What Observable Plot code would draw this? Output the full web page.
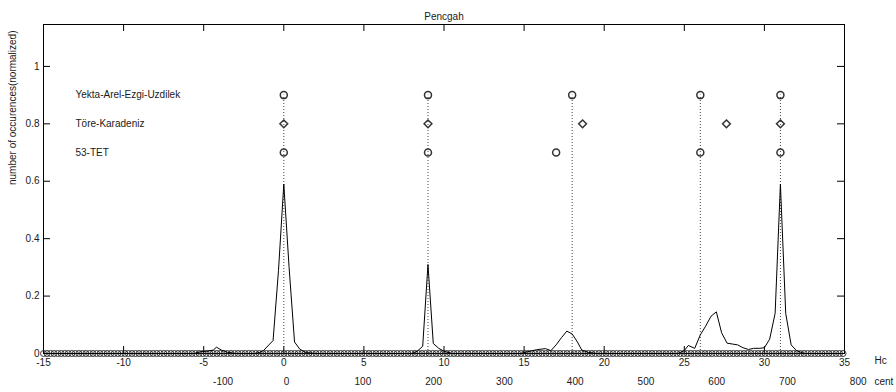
<!DOCTYPE html>
<html>
<head>
<meta charset="utf-8">
<script src="https://cdn.jsdelivr.net/npm/d3@7"></script>
<script src="https://cdn.jsdelivr.net/npm/@observablehq/plot@0.6"></script>
<style>
  html, body { margin: 0; padding: 0; background: #fff; }
  #chart { width: 896px; height: 392px; }
</style>
</head>
<body>
<div id="chart"></div>
<script>
// ---- data ----
const title = "Pencgah";
const yLabel = "number of occurences(normalized)";
const xTicks = [-15, -10, -5, 0, 5, 10, 15, 20, 25, 30, 35];
const yTicks = [0, 0.2, 0.4, 0.6, 0.8, 1];
const centTicks = [-100, 0, 100, 200, 300, 400, 500, 600, 700, 800];
const systems = ["Yekta-Arel-Ezgi-Uzdilek", "Töre-Karadeniz", "53-TET"];
const levels = [0.9, 0.8, 0.7];
const yekta = [0, 9, 18, 26, 31];
const tore = [0, 9, 18.65, 27.63, 31];
const tet53 = [0, 9, 17, 26, 31];
// pitch histogram (Hc, normalized occurrences)
const histHc = [-15, -5.6, -5.2, -4.8, -4.4, -4.2, -3.9, -3.5, -3.0, -1.8, -1.5, -1.27, -0.93, -0.67, -0.33, 0, 0.33, 0.67, 1.0, 1.4, 2.0,
  8.0, 8.33, 8.67, 9.0, 9.33, 9.67, 10.0, 10.5,
  14.8, 15.2, 15.77, 16.33, 16.67, 17.0, 17.33, 17.67, 18.0, 18.33, 18.6, 19.0, 19.5,
  24.6, 25.0, 25.25, 25.65, 26.0, 26.33, 26.67, 27.0, 27.33, 27.67, 28.0, 28.33, 28.67, 29.0, 29.33, 29.67, 30.0, 30.33, 30.67, 31.0, 31.33, 31.67, 32.0, 32.5, 35];
const histVal = [0, 0, 0.006, 0.008, 0.012, 0.022, 0.012, 0.004, 0, 0, 0.004, 0.01, 0.03, 0.045, 0.29, 0.59, 0.3, 0.04, 0.015, 0.003, 0,
  0, 0.008, 0.025, 0.31, 0.035, 0.018, 0.008, 0,
  0, 0.006, 0.013, 0.017, 0.01, 0.03, 0.055, 0.078, 0.068, 0.04, 0.012, 0.004, 0,
  0, 0.01, 0.028, 0.018, 0.065, 0.095, 0.13, 0.145, 0.072, 0.036, 0.033, 0.03, 0.02, 0.014, 0.018, 0.018, 0.02, 0.05, 0.14, 0.59, 0.14, 0.03, 0.01, 0, 0];
// histogram bin centres: 5-cent bins expressed in Hc
const binStepCents = 5;
const bins = d3.range(-15, 35 + 1e-9, binStepCents * 53 / 1200);

// ---- layout ----
const W = 896, H = 392;
const mL = 43, mR = 52, mT = 24, mB = 39;
const fw = W - mL - mR, fh = H - mT - mB;
const tick = 7;
const ink = "#1a1a1a";

const plot = Plot.plot({
  width: W,
  height: H,
  marginLeft: mL, marginRight: mR, marginTop: mT, marginBottom: mB,
  style: { fontSize: "10px", fontFamily: "'Liberation Sans', Arial, sans-serif", color: ink, background: "#fff" },
  x: { domain: [-15, 35], nice: false },
  y: { domain: [0, 1.146], nice: false },
  marks: [
    Plot.frame({ stroke: "#000" }),
    // inward tick marks (box style)
    Plot.ruleX(xTicks, { x: d => d, insetTop: fh - tick, stroke: "#000" }),
    Plot.ruleX(xTicks, { x: d => d, insetBottom: fh - tick, stroke: "#000" }),
    Plot.ruleY(yTicks, { y: d => d, insetRight: fw - tick, stroke: "#000" }),
    Plot.ruleY(yTicks, { y: d => d, insetLeft: fw - tick, stroke: "#000" }),
    Plot.axisX({ ticks: xTicks, tickSize: 0, tickPadding: 5, tickFormat: d => String(d), label: null }),
    Plot.axisY({ ticks: yTicks, tickSize: 0, tickPadding: 4, tickFormat: d => String(d), label: null }),
    // cents axis
    Plot.text(centTicks, { x: d => d * 53 / 1200, frameAnchor: "bottom", dy: 31, textAnchor: "start", text: d => String(d), fill: ink }),
    Plot.text(["Hc"], { frameAnchor: "bottom-right", dx: 30, dy: 10, textAnchor: "start", fill: ink }),
    Plot.text(["cent"], { frameAnchor: "bottom-right", dx: 30, dy: 31, textAnchor: "start", fill: ink }),
    // title + y label
    Plot.text([title], { frameAnchor: "top", dy: -12, fill: ink }),
    Plot.text([yLabel], { frameAnchor: "left", dx: -31, dy: -4, rotate: -90, fill: ink }),
    // dotted reference lines at Yekta-Arel pitches
    Plot.ruleX(yekta, { x: d => d, y1: 0, y2: levels[0], stroke: "#444", strokeDasharray: "1,2" }),
    // histogram
    Plot.dot(bins, { x: d => d, y: 0, r: 3, stroke: "#222", strokeWidth: 0.9, fill: "none" }),
    Plot.line(histHc, { x: d => d, y: (d, i) => histVal[i], stroke: "#000", strokeWidth: 1 }),
    // tuning systems
    Plot.dot(yekta, { x: d => d, y: levels[0], r: 3.5, stroke: "#333", fill: "none" }),
    Plot.dot(tore, { x: d => d, y: levels[1], r: 3.5, symbol: "diamond2", stroke: "#333", fill: "none" }),
    Plot.dot(tet53, { x: d => d, y: levels[2], r: 3.5, stroke: "#333", fill: "none" }),
    Plot.text(systems, { y: (d, i) => levels[i], frameAnchor: "left", dx: 32, textAnchor: "start", text: d => d, fill: ink })
  ]
});
document.getElementById("chart").appendChild(plot);
</script>
</body>
</html>
